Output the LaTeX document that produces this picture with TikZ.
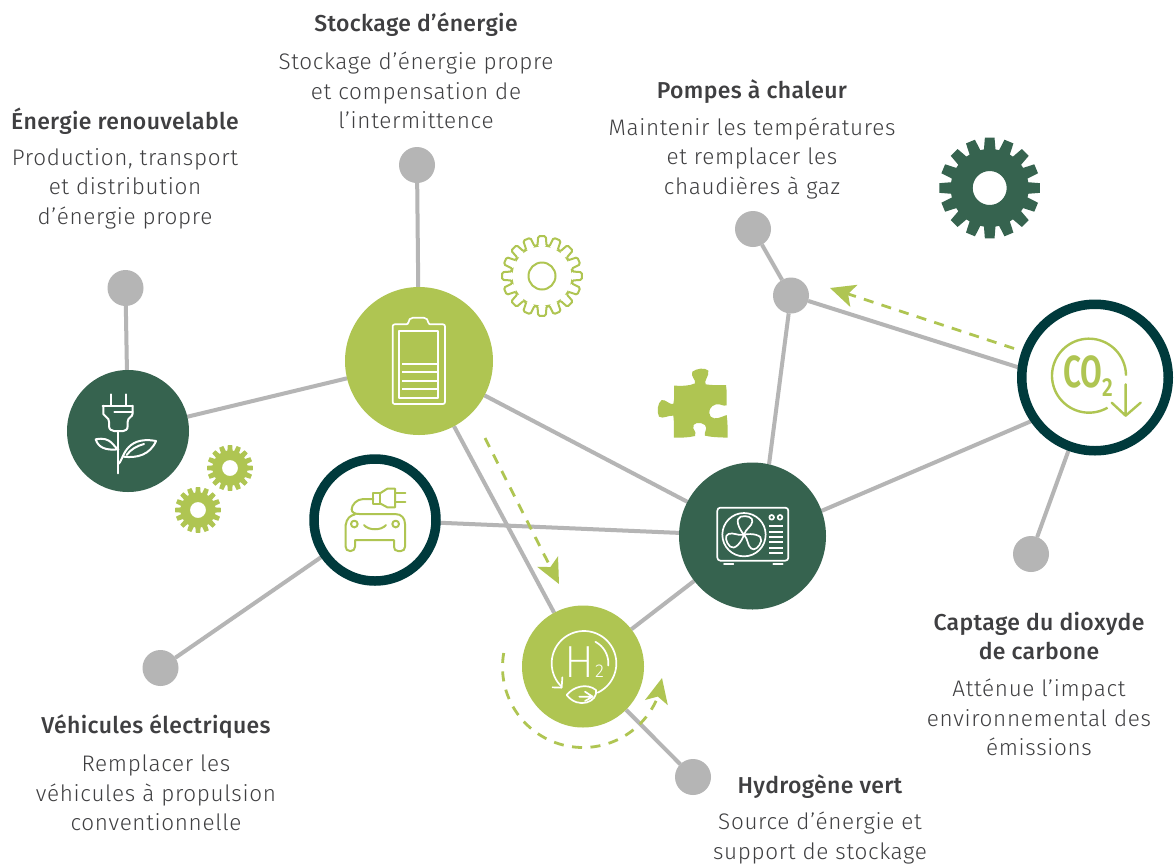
\documentclass[tikz,border=0pt]{standalone}
\usepackage{fontspec}
\usetikzlibrary{arrows.meta}
\setmainfont{Fira Sans}
\newfontfamily\titlefont{Fira Sans Medium}[LetterSpace=1.5]
\newfontfamily\descfont{Fira Sans Light}[LetterSpace=3]
\newfontfamily\htwofont{Fira Sans ExtraLight}
\newfontfamily\cofont{Fira Sans SemiBold}
\definecolor{lime}{HTML}{AFC552}
\definecolor{forest}{HTML}{36634F}
\definecolor{teal}{HTML}{003A3C}
\definecolor{grayline}{HTML}{B5B5B5}
\definecolor{txt}{HTML}{3F3F41}
\pgfdeclarelayer{behind}
\pgfsetlayers{behind,main}
\newcommand{\gearshape}[5]{% cx cy ro ri n
  ({#1+#4*cos(-8.5)},{#2+#4*sin(-8.5)})
  foreach \gi in {1,...,#5} {
    -- ({#1+#3*cos(\gi*360/#5-360/#5-5.5)},{#2+#3*sin(\gi*360/#5-360/#5-5.5)})
    -- ({#1+#3*cos(\gi*360/#5-360/#5+5.5)},{#2+#3*sin(\gi*360/#5-360/#5+5.5)})
    -- ({#1+#4*cos(\gi*360/#5-360/#5+8.5)},{#2+#4*sin(\gi*360/#5-360/#5+8.5)})
    -- ({#1+#4*cos(\gi*360/#5-8.5)},{#2+#4*sin(\gi*360/#5-8.5)})
  } -- cycle}
\tikzset{
  x=1pt,y=-1pt,
  hub/.style={circle,inner sep=0pt,outer sep=0pt},
  dot/.style={hub,fill=grayline,minimum size=36pt},
  filled/.style={hub,fill=#1},
  ringed/.style={hub,draw=teal,fill=white,line width=9.5pt},
  link/.style={draw=grayline,line width=4pt},
  flow/.style={draw=lime,line width=2.8pt,dash pattern=on 10pt off 8.5pt,
    -{Stealth[length=25pt,width=23pt,inset=6pt,fill=lime]}},
  whiteicon/.style={draw=white,line width=1.7pt,line cap=round,line join=round},
  limeicon/.style={draw=lime,line width=2pt,line cap=round,line join=round},
  title/.style={font=\titlefont\fontsize{23}{29.6}\selectfont,text=txt,inner sep=0pt},
  desc/.style={font=\descfont\fontsize{22.5}{29.4}\selectfont,text=txt,align=center,inner sep=0pt},
}
\begin{document}
\begin{tikzpicture}
\useasboundingbox (0,0) rectangle (1176,863);
% hubs
\node[filled=forest,minimum size=122pt] (renew) at (128,431) {};
\node[filled=lime,minimum size=148pt] (batt) at (419,361) {};
\node[ringed,minimum size=122pt] (car) at (375,520) {};
\node[filled=forest,minimum size=147pt] (pump) at (752.5,536) {};
\node[filled=lime,minimum size=122pt] (htwo) at (583,666.5) {};
\node[ringed,minimum size=146.5pt] (co) at (1095,377.5) {};
% small dots
\node[dot] (d1) at (417,165) {};
\node[dot] (d2) at (125.5,288) {};
\node[dot] (d3) at (753,229) {};
\node[dot] (d4) at (791,295.5) {};
\node[dot] (d5) at (1031,554) {};
\node[dot] (d6) at (160.5,668) {};
\node[dot] (d7) at (693,777) {};
% links
\begin{pgfonlayer}{behind}
\fill[white] (0,0) rectangle (1176,863);
\draw[link] (d2) -- (renew);
\draw[link] (d1) -- (batt);
\draw[link] (renew) -- (batt);
\draw[link] (batt) -- (pump);
\draw[link] (batt) -- (htwo);
\draw[link] (car) -- (pump);
\draw[link] (car) -- (d6);
\draw[link] (htwo) -- (pump);
\draw[link] (htwo) -- (d7);
\draw[link] (pump.77) -- (d4);
\draw[link] (pump.20.6) -- (co.215);
\draw[link] (d4) -- (co.173);
\draw[link] (d3) -- (d4);
\draw[link] (co) -- (d5);
\end{pgfonlayer}
% dashed flows
\coordinate (f1a) at (1014,348.5);
\coordinate (f1b) at (830,288);
\coordinate (f2a) at (485,438);
\coordinate (f2b) at (559,584);
\draw[flow] (f1a) -- (f1b);
\draw[flow] (f2a) -- (f2b);
\draw[flow] plot[smooth,domain=190:22,samples=50] ({583+80.5*cos(\x)},{667+80.5*sin(\x)}) -- (662,678);
% gears
\draw[lime,line width=2pt,rounded corners=1.5pt] \gearshape{542}{276}{40}{30.5}{16};
\draw[lime,line width=2pt] (542,276) circle (13.5);
\fill[forest,even odd rule] \gearshape{989.7}{188}{50.5}{39}{16} (989.7,188) circle (17);
\fill[lime,even odd rule] \gearshape{230}{468}{23}{17.5}{16} (230,468) circle (8);
\fill[lime,even odd rule] \gearshape{198}{510}{23}{17.5}{16} (198,510) circle (8);
% puzzle piece
\begin{scope}[shift={(640,150)},x=.33333pt,y=-.33333pt]
\fill[lime] (102,707) .. controls (125,708) and (150,708) .. (165,700)
  .. controls (170,690) and (150,680) .. (157,665)
  .. controls (170,655) and (195,652) .. (205,662)
  .. controls (208,680) and (190,692) .. (197,703)
  .. controls (215,706) and (240,706) .. (258,705)
  .. controls (261,725) and (260,745) .. (260,766)
  .. controls (250,770) and (240,760) .. (228,763)
  .. controls (210,768) and (202,785) .. (212,800)
  .. controls (225,812) and (245,800) .. (260,795)
  .. controls (263,815) and (263,840) .. (263,863)
  .. controls (240,862) and (215,862) .. (195,857)
  .. controls (190,848) and (205,838) .. (195,825)
  .. controls (180,813) and (155,818) .. (160,835)
  .. controls (165,845) and (170,850) .. (165,858)
  .. controls (145,863) and (125,863) .. (102,863)
  .. controls (100,840) and (103,815) .. (100,797)
  .. controls (85,795) and (70,808) .. (57,800)
  .. controls (50,785) and (52,760) .. (65,750)
  .. controls (78,748) and (88,765) .. (100,762)
  .. controls (104,745) and (102,725) .. (102,707) -- cycle;
\end{scope}
% plug-plant icon
\begin{scope}[shift={(60,360)},x=.33333pt,y=-.33333pt]
\draw[whiteicon,line width=2pt] (152,103) -- (152,137) (197,103) -- (197,137) (128,137) -- (218,137);
\draw[whiteicon,line width=2pt] (130,137) -- (130,162) .. controls (135,172) and (147,172) .. (147,185) -- (147,198)
  .. controls (147,208) and (155,213) .. (162,213) -- (190,213) .. controls (197,213) and (203,208) .. (203,198)
  -- (203,185) .. controls (203,172) and (218,172) .. (218,160) -- (218,137);
\draw[whiteicon,line width=2pt] (163,157) -- (218,157);
\draw[whiteicon,line width=2pt] (175,213) -- (175,340);
\draw[whiteicon,line width=2pt] (175,268) .. controls (160,262) and (155,228) .. (107,238) .. controls (115,262) and (135,272) .. (175,268) -- cycle;
\draw[whiteicon,line width=2pt] (175,312) .. controls (190,305) and (190,225) .. (288,243) .. controls (270,285) and (230,295) .. (190,290);
\draw[whiteicon,line width=2pt] (200,285) .. controls (212,268) and (230,258) .. (252,252);
\end{scope}
% battery icon
\begin{scope}[shift={(340,230)},x=.33333pt,y=-.33333pt]
\draw[whiteicon,rounded corners=2pt] (158,283) -- (205,283) -- (205,272) -- (213,263) -- (257,263) -- (265,272) -- (265,283) -- (315,283) -- (315,522) -- (158,522) -- cycle;
\draw[whiteicon,line cap=butt] (177,303) rectangle (295,503);
\foreach \yy in {402,427,452,477}
  \draw[whiteicon,line cap=butt] (187,\yy) -- (292,\yy);
\end{scope}
% car icon
\begin{scope}[shift={(300,450)},x=.33333pt,y=-.33333pt]
\draw[limeicon] (220,147) -- (190,147) .. controls (170,147) and (155,165) .. (155,178)
  .. controls (155,188) and (165,192) .. (178,192) -- (285,192)
  .. controls (305,192) and (315,205) .. (315,222) -- (315,290)
  .. controls (315,298) and (310,303) .. (303,303) -- (294,303)
  .. controls (286,303) and (282,298) .. (282,290) -- (282,270) -- (165,270) -- (165,290)
  .. controls (165,298) and (160,303) .. (152,303) -- (150,303)
  .. controls (142,303) and (137,298) .. (137,290) -- (137,225);
\draw[limeicon] (137,225) .. controls (140,205) and (150,197) .. (165,193);
\draw[limeicon] (163,222) circle (10) (287,222) circle (10);
\draw[limeicon] (192,225) .. controls (205,242) and (245,242) .. (258,225);
\draw[limeicon] (220,130) rectangle (240,162);
\draw[limeicon] (240,130) -- (262,116) -- (285,116) -- (285,172) -- (262,172) -- (240,160);
\draw[limeicon] (285,130) -- (316,130) (285,156) -- (316,156);
\end{scope}
% hydrogen icon
\begin{scope}[shift={(490,590)},x=.33333pt,y=-.33333pt]
\draw[whiteicon] plot[smooth,domain=135:425,samples=60] ({282+97*cos(\x)},{220+97*sin(\x)});
\draw[whiteicon] (188,292) -- (215,293) -- (217,262);
\draw[whiteicon] plot[smooth,domain=-62:5,samples=20] ({282+73*cos(\x)},{220+73*sin(\x)});
\node[hub,text=white,font=\htwofont\fontsize{45}{45}\selectfont] (hh) at (269,216) {H};
\node[hub,text=white,font=\descfont\fontsize{18.5}{18.5}\selectfont] (h2) at (329,244) {2};
\draw[whiteicon] (230,315) .. controls (250,290) and (290,278) .. (318,300) .. controls (325,335) and (265,360) .. (230,315) -- cycle;
\draw[whiteicon] (268,320) -- (308,320) (285,305) -- (308,320) -- (285,333);
\end{scope}
% heat pump icon
\begin{scope}[shift={(670,460)},x=.33333pt,y=-.33333pt]
\draw[whiteicon,rounded corners=3pt] (142,143) rectangle (355,302);
\draw[whiteicon] (162,313) -- (190,313) (310,313) -- (338,313);
\draw[whiteicon] (222,224) circle (65);
\foreach \rr in {0,120,240}
  \draw[whiteicon,rotate around={\rr:(222,224)}] (222,224) .. controls (205,205) and (195,175) .. (212,170)
    .. controls (230,165) and (250,172) .. (247,185) .. controls (245,200) and (228,205) .. (222,224) -- cycle;
\draw[whiteicon] (305,172) circle (7) (330,172) circle (7);
\foreach \yy in {198,215,232,247,264,280}
  \draw[whiteicon,line cap=butt] (298,\yy) -- (338,\yy);
\end{scope}
% CO2 icon
\begin{scope}[shift={(1010,295)},x=.33333pt,y=-.33333pt]
\draw[limeicon,line width=2.4pt,line cap=butt] plot[smooth,domain=0:-300,samples=70] ({237+111*cos(\x)},{242+111*sin(\x)});
\draw[limeicon,line width=2.4pt] (347,268) -- (347,362) (305,323) -- (347,362) -- (392,323);
\node[hub,text=lime,font=\cofont\fontsize{45}{45}\selectfont] (coT) at (219,232) {\scalebox{.7}[1]{CO}};
\node[hub,text=lime,font=\cofont\fontsize{26}{26}\selectfont] (coS) at (292,279) {\scalebox{.8}[1]{2}};
\end{scope}
% texts
\node[title] (t1) at (125,121.5) {Énergie renouvelable};
\node[desc] (x1) at (125,188.5) {Production, transport\\et distribution\\d’énergie propre};
\node[title] (t2) at (416,24.5) {Stockage d’énergie};
\node[desc] (x2) at (416,90.5) {Stockage d’énergie propre\\et compensation de\\l’intermittence};
\node[title] (t3) at (752,92) {Pompes à chaleur};
\node[desc] (x3) at (752,158.5) {Maintenir les températures\\et remplacer les\\chaudières à gaz};
\node[title,align=center] (t4) at (1039,636) {Captage du dioxyde\\de carbone};
\node[desc] (x4) at (1039,717.5) {Atténue l’impact\\environnemental des\\émissions};
\node[title] (t5) at (156,727) {Véhicules électriques};
\node[desc] (x5) at (156,793) {Remplacer les\\véhicules à propulsion\\conventionnelle};
\node[title] (t6) at (820,787) {Hydrogène vert};
\node[desc] (x6) at (820,838) {Source d’énergie et\\support de stockage};
\end{tikzpicture}
\end{document}
